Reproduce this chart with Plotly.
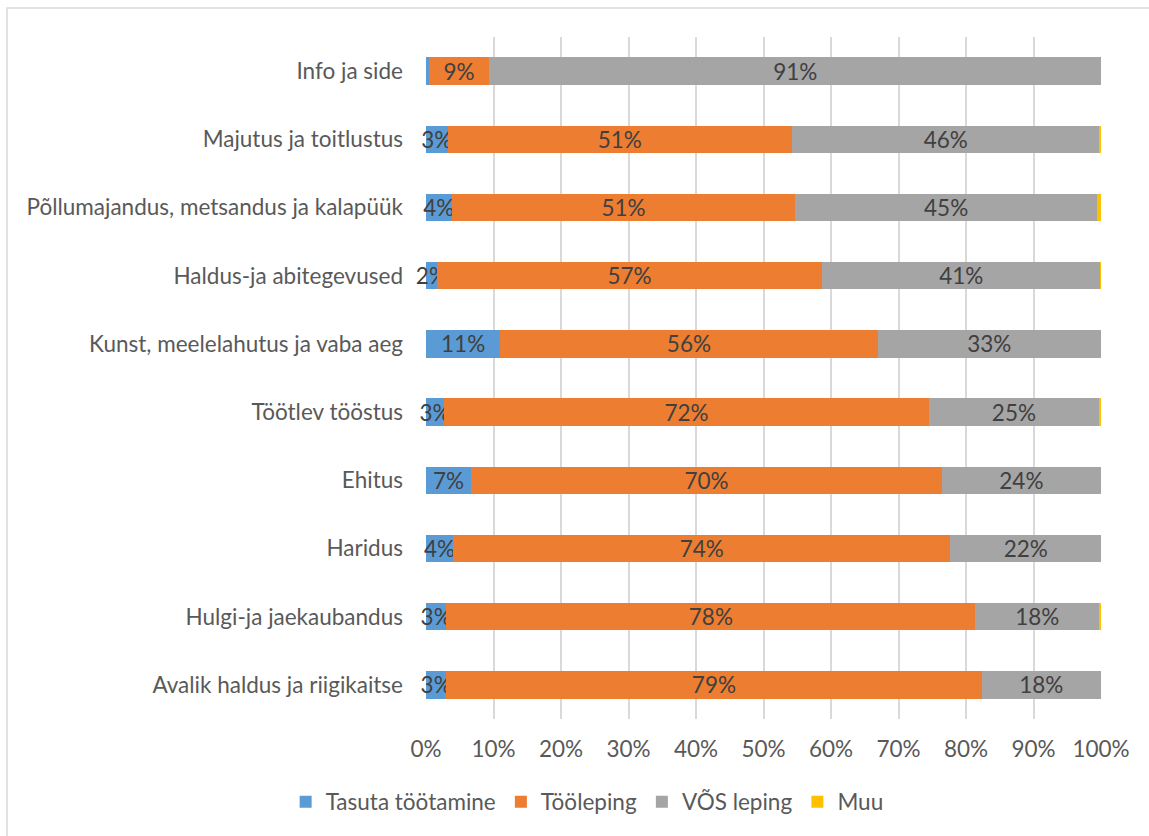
import plotly.graph_objects as go

# Sectors, listed top to bottom as drawn
sectors = [
    "Info ja side",
    "Majutus ja toitlustus",
    "Põllumajandus, metsandus ja kalapüük",
    "Haldus-ja abitegevused",
    "Kunst, meelelahutus ja vaba aeg",
    "Töötlev tööstus",
    "Ehitus",
    "Haridus",
    "Hulgi-ja jaekaubandus",
    "Avalik haldus ja riigikaitse",
]

# Share of each contract type (%)
tasuta = [0.4, 3.2, 3.8, 1.6, 11.0, 2.7, 6.7, 4.0, 3.0, 3.0]
tooleping = [9.0, 51.0, 50.9, 57.1, 55.9, 71.8, 69.7, 73.7, 78.4, 79.3]
vos = [90.6, 45.6, 44.7, 41.2, 33.1, 25.2, 23.6, 22.3, 18.3, 17.7]
muu = [0.0, 0.2, 0.6, 0.1, 0.0, 0.3, 0.0, 0.0, 0.3, 0.0]

series = [
    ("Tasuta töötamine", tasuta, "#5b9bd5"),
    ("Tööleping", tooleping, "#ed7d31"),
    ("VÕS leping", vos, "#a5a5a5"),
    ("Muu", muu, "#ffc000"),
]

x_ticks = list(range(0, 101, 10))

FONT = "Lato, Calibri, Carlito, sans-serif"
FS = 22.5


def label(v):
    # Segments thinner than 1% carry no label
    return f"{int(v + 0.5)}%" if v >= 1 else ""


fig = go.Figure()
for name, vals, color in series:
    fig.add_trace(go.Bar(
        y=sectors,
        x=vals,
        name=name,
        orientation="h",
        marker=dict(color=color, line=dict(width=0)),
        text=[label(v) for v in vals],
        textposition="inside",
        insidetextanchor="middle",
        constraintext="none",
        textangle=0,
        textfont=dict(family=FONT, size=FS, color="#404040"),
        cliponaxis=False,
        hoverinfo="skip",
    ))

W, H = 1149, 836
L, R, T, B = 426, 48, 37, 117
pw, ph = W - L - R, H - T - B

fig.update_layout(
    width=W,
    height=H,
    barmode="stack",
    bargap=0.6,
    margin=dict(l=L, r=R, t=T, b=B, autoexpand=False),
    paper_bgcolor="white",
    plot_bgcolor="white",
    font=dict(family=FONT, size=FS, color="#595959"),
    showlegend=True,
    legend=dict(
        orientation="h",
        xref="container",
        x=0.511,
        xanchor="center",
        yref="container",
        y=(H - 802) / H,
        yanchor="middle",
        font=dict(family=FONT, size=FS, color="#595959"),
        traceorder="normal",
        itemwidth=30,
    ),
    xaxis=dict(
        range=[0, 100],
        tickvals=x_ticks,
        ticktext=[f"{v}%" for v in x_ticks],
        showgrid=True,
        gridcolor="#d9d9d9",
        gridwidth=1.5,
        zeroline=False,
        showline=False,
        ticks="",
        ticklabelstandoff=14,
        tickfont=dict(family=FONT, size=FS, color="#595959"),
        fixedrange=True,
    ),
    yaxis=dict(
        categoryorder="array",
        categoryarray=sectors,
        autorange="reversed",
        showgrid=False,
        zeroline=False,
        showline=False,
        ticks="",
        ticklabelstandoff=22,
        tickfont=dict(family=FONT, size=FS, color="#595959"),
        fixedrange=True,
    ),
    shapes=[
        # Light frame around the chart area
        dict(
            type="rect",
            xref="paper",
            yref="paper",
            x0=(7 - L) / pw,
            x1=(W + 20 - L) / pw,
            y0=-(B + 20) / ph,
            y1=(H - B - 8) / ph,
            line=dict(color="#d9d9d9", width=1.5),
            fillcolor="rgba(0,0,0,0)",
            layer="below",
        ),
    ],
)

fig.write_html("out.html")
